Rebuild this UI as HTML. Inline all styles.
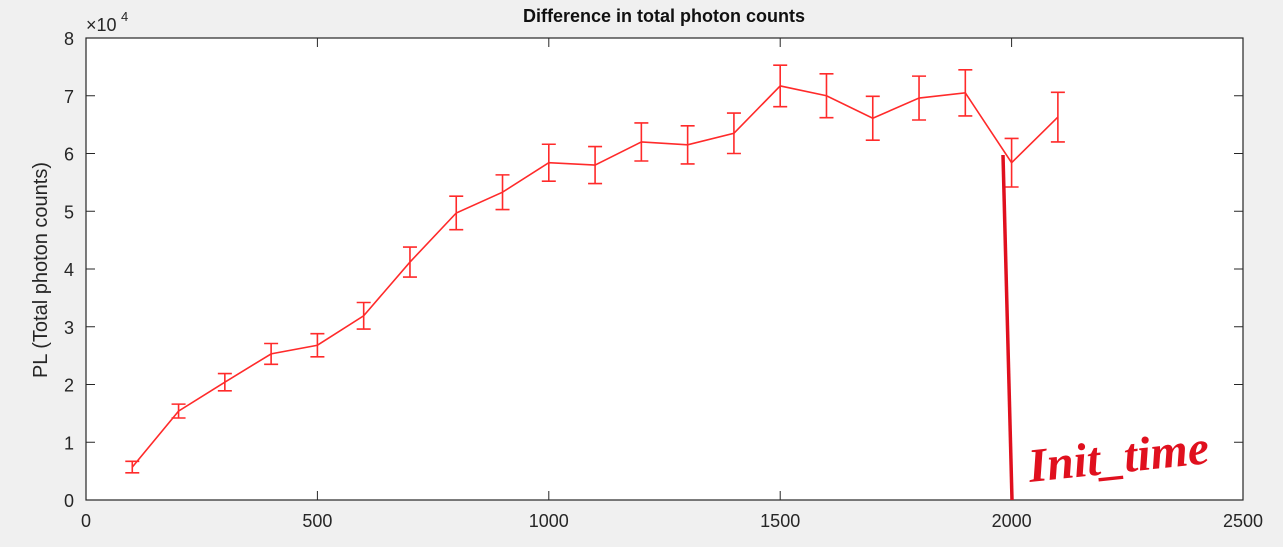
<!DOCTYPE html>
<html><head><meta charset="utf-8"><style>
body{margin:0;background:#f0f0f0;}
svg{display:block;font-family:"Liberation Sans",sans-serif;}
</style></head><body>
<svg id="c" width="1283" height="547"></svg>
<script>
const xs=[100,200,300,400,500,600,700,800,900,1000,1100,1200,1300,1400,1500,1600,1700,1800,1900,2000,2100];
const ys=[0.57,1.54,2.04,2.53,2.68,3.19,4.12,4.97,5.33,5.84,5.8,6.2,6.15,6.35,7.17,7.0,6.61,6.96,7.05,5.84,6.63];
const errs=[0.1,0.12,0.15,0.18,0.2,0.23,0.26,0.29,0.3,0.32,0.32,0.33,0.33,0.35,0.36,0.38,0.38,0.38,0.4,0.42,0.43];
const xTicks=[0,500,1000,1500,2000,2500];
const yTicks=[0,1,2,3,4,5,6,7,8];
const L=86,R=1243,T=38,B=500;
const X=v=>L+(v/2500)*(R-L), Y=v=>B-(v/8)*(B-T);
const s=document.getElementById('c');const NS='http://www.w3.org/2000/svg';
function add(tag,a,txt){const e=document.createElementNS(NS,tag);for(const k in a)e.setAttribute(k,a[k]);if(txt!==undefined)e.textContent=txt;s.appendChild(e);return e;}
let e=add('rect',{x:L,y:T,width:R-L,height:B-T,fill:'#fff',stroke:'#262626','stroke-width':1.2});

xTicks.forEach(t=>{add('line',{x1:X(t),x2:X(t),y1:B,y2:B-9,stroke:'#262626'});add('line',{x1:X(t),x2:X(t),y1:T,y2:T+9,stroke:'#262626'});
 e=add('text',{x:X(t),y:B+27,'text-anchor':'middle','font-size':18,fill:'#262626'},t);});
yTicks.forEach(t=>{add('line',{x1:L,x2:L+9,y1:Y(t),y2:Y(t),stroke:'#262626'});add('line',{x1:R,x2:R-9,y1:Y(t),y2:Y(t),stroke:'#262626'});
 e=add('text',{x:L-12,y:Y(t)+7,'text-anchor':'end','font-size':18,fill:'#262626'},t);});
e=add('text',{x:86,y:31,'font-size':18,fill:'#262626'},'×10');
add('text',{x:121,y:21,'font-size':13,fill:'#262626'},'4');
e=add('text',{x:664,y:22,'text-anchor':'middle','font-size':18,'font-weight':'bold',fill:'#111'},'Difference in total photon counts');
e=add('text',{x:0,y:0,transform:'translate(47,270) rotate(-90)','text-anchor':'middle','font-size':20,fill:'#262626'},'PL (Total photon counts)');
e=add('polyline',{points:xs.map((x,i)=>X(x)+','+Y(ys[i])).join(' '),fill:'none',stroke:'#ff2a2a','stroke-width':1.6});

xs.forEach((x,i)=>{const cx=X(x),y1=Y(ys[i]+errs[i]),y2=Y(ys[i]-errs[i]);
 e=add('path',{d:`M${cx},${y1}V${y2}M${cx-7},${y1}H${cx+7}M${cx-7},${y2}H${cx+7}`,stroke:'#ff2a2a','stroke-width':1.6,fill:'none'});
 });
e=add('line',{x1:1003,y1:155,x2:1012,y2:500,stroke:'#e0101e','stroke-width':3.5});
e=add('text',{x:1030,y:482,'font-size':48,'font-style':'italic','font-weight':'bold',fill:'#e0101e','font-family':'"Liberation Serif",serif',transform:'rotate(-6 1030 482)'},'Init_time');
</script></body></html>
